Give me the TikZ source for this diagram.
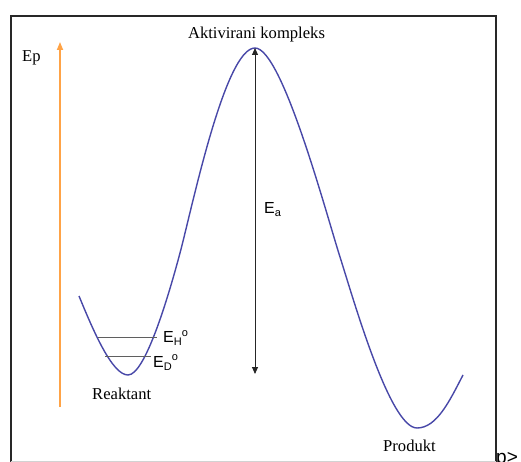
\documentclass[tikz,border=0pt]{standalone}
\usepackage{fontspec}
\setmainfont{Liberation Serif}
\newfontfamily\arialfont{Liberation Sans}
\usetikzlibrary{arrows.meta}
\definecolor{curveblue}{RGB}{72,72,168}
\definecolor{axisorange}{RGB}{255,163,70}
\definecolor{levelgray}{RGB}{95,95,95}
\definecolor{framegray}{RGB}{40,40,40}
\newcommand{\lowtxt}[1]{\raisebox{-3pt}{\fontsize{11}{11}\selectfont #1}}
\newcommand{\hightxt}[1]{\raisebox{6.5pt}{\fontsize{11}{11}\selectfont #1}}
\begin{document}
\begin{tikzpicture}[x=1pt,y=-1pt,
  serlbl/.style={inner sep=0pt, font=\fontsize{16.6}{18}\selectfont},
  sanslbl/.style={inner sep=0pt, font=\arialfont\fontsize{16}{18}\selectfont},
  levelline/.style={levelgray, line width=1pt},
  eaarrow/.style={black!85, line width=0.9pt, {Triangle[width=6pt,length=7pt]}-{Triangle[width=6pt,length=7pt]}},
  eparrow/.style={axisorange, line width=1.6pt, -{Triangle[width=6pt,length=8pt]}}]
\useasboundingbox (0,0) rectangle (521,462);
\fill[white] (0,0) rectangle (521,462);
% frame
\draw[framegray, line width=2pt] (10.5,462) -- (10.5,16.5) -- (495.5,16.5) -- (495.5,462);
\draw[gray!35, line width=0.8pt] (10.5,461.5) -- (495.5,461.5);
% energy axis
\coordinate (epbot) at (60,407);
\coordinate (eptop) at (60,42);
\draw[eparrow] (epbot) -- (eptop);
% potential curve
\coordinate (c0) at (79,296);
\coordinate (cmin1) at (128,375);
\coordinate (cinf1) at (180,253);
\coordinate (cpeak) at (255,48);
\coordinate (cinf2) at (340,257);
\coordinate (cmin2) at (417,428);
\coordinate (cend) at (463,375);
\draw[curveblue, line width=1.4pt]
  (c0) .. controls (93,330) and (112,375) .. (cmin1)
       .. controls (145,375) and (168,298) .. (cinf1)
       .. controls (192,208) and (225,48) .. (cpeak)
       .. controls (282,48) and (326,213) .. (cinf2)
       .. controls (354,301) and (390,428) .. (cmin2)
       .. controls (437,428) and (450,400) .. (cend);
% levels
\coordinate (ehl) at (98,337);
\coordinate (ehr) at (157,337);
\coordinate (edl) at (105,356);
\coordinate (edr) at (151,356);
\draw[levelline] (ehl) -- (ehr);
\draw[levelline] (edl) -- (edr);
% activation energy arrow
\coordinate (eatop) at (255,48);
\coordinate (eabot) at (255,374);
\draw[eaarrow] (eabot) -- (eatop);
% labels
\node[serlbl, anchor=base west] (ep) at (22,61.5) {Ep};
\node[serlbl, anchor=base] (ak) at (256.5,39) {Aktivirani kompleks};
\node[serlbl, anchor=base west] (re) at (92,399) {Reaktant};
\node[serlbl, anchor=base west] (pr) at (383,451.5) {Produkt};
\node[sanslbl, anchor=base west] (ea) at (264,213.5) {E\lowtxt{a}};
\node[sanslbl, anchor=base west] (eh) at (163,342.5) {E\lowtxt{H}\hightxt{o}};
\node[sanslbl, anchor=base west] (ed) at (153,367) {E\lowtxt{D}\hightxt{o}};
\node[sanslbl, font=\arialfont\fontsize{19}{20}\selectfont, anchor=base west] (pg) at (496,463) {p>};
\end{tikzpicture}
\end{document}
